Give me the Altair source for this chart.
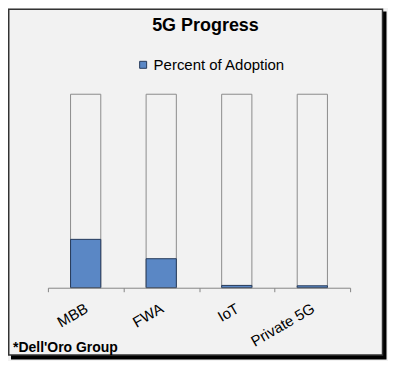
import altair as alt
import pandas as pd

categories = ["MBB", "FWA", "IoT", "Private 5G"]
adoption = [25.0, 15.0, 1.2, 1.0]
total = [100, 100, 100, 100]
series_name = "Percent of Adoption"
title_text = "5G Progress"
source_text = "*Dell'Oro Group"

df = pd.DataFrame({"category": categories, "adoption": adoption, "total": total,
                   "series": [series_name] * len(categories)})

FONT = "Liberation Sans"
W, H = 381, 353

xscale = alt.Scale(domain=categories, range=[40, 343], paddingInner=0, paddingOuter=0)
yscale = alt.Scale(domain=[0, 100], range=[280, 86])

one = alt.Data(values=[{"k": 1}])

shadow = alt.Chart(one).mark_rect(color="#000000").encode(
    x=alt.value(3), x2=alt.value(379.5), y=alt.value(3), y2=alt.value(352))
box = alt.Chart(one).mark_rect(fill="#f2f2f2", stroke="#333333", strokeWidth=1.5).encode(
    x=alt.value(0.75), x2=alt.value(375.5), y=alt.value(0.75), y2=alt.value(347.5))

xaxis = alt.Axis(title=None, domainColor="#868686", tickColor="#868686", tickSize=4,
                 tickBand="extent", labelAngle=-30, labelAlign="right", labelBaseline="top",
                 labelFontSize=15, labelFont=FONT, labelColor="#000000", labelPadding=9,
                 labelOffset=-3, grid=False, offset=-(H - 280), zindex=2)

base = alt.Chart(df)
white = base.mark_bar(width={"band": 0.4}, fill="#f2f2f2", stroke="#8c8c8c", strokeWidth=1).encode(
    x=alt.X("category:N", scale=xscale, axis=xaxis, sort=categories),
    y=alt.Y("total:Q", scale=yscale, axis=None),
)
blue = base.mark_bar(width={"band": 0.4}, stroke="#263a5a", strokeWidth=1).encode(
    x=alt.X("category:N", scale=xscale, sort=categories),
    y=alt.Y("adoption:Q", scale=yscale),
    color=alt.Color("series:N", scale=alt.Scale(domain=[series_name], range=["#5a87c5"]),
                    legend=alt.Legend(orient="none", legendX=128, legendY=49, title=None,
                                      symbolType="square", symbolSize=49,
                                      symbolStrokeColor="#263a5a", symbolStrokeWidth=1,
                                      labelFontSize=15, labelFont=FONT, labelColor="#000000",
                                      labelOffset=3, padding=0, zindex=2)),
)
source = alt.Chart(one).mark_text(text=source_text, align="left", baseline="alphabetic",
                                  font=FONT, fontSize=14, fontWeight="bold", color="#000000").encode(
    x=alt.value(5), y=alt.value(344))

chart = alt.layer(shadow, box, white, blue, source).properties(
    width=W, height=H,
    autosize=alt.AutoSizeParams(type="none"),
    padding=0,
    title=alt.TitleParams(title_text, font=FONT, fontSize=18, fontWeight="bold", color="#000000",
                          anchor="middle", frame="group", offset=-27, dx=7.5, zindex=2),
    background="#f2f2f2",
).configure_view(strokeWidth=0)

chart.save("out.html", embed_options={"renderer": "svg", "actions": False})
